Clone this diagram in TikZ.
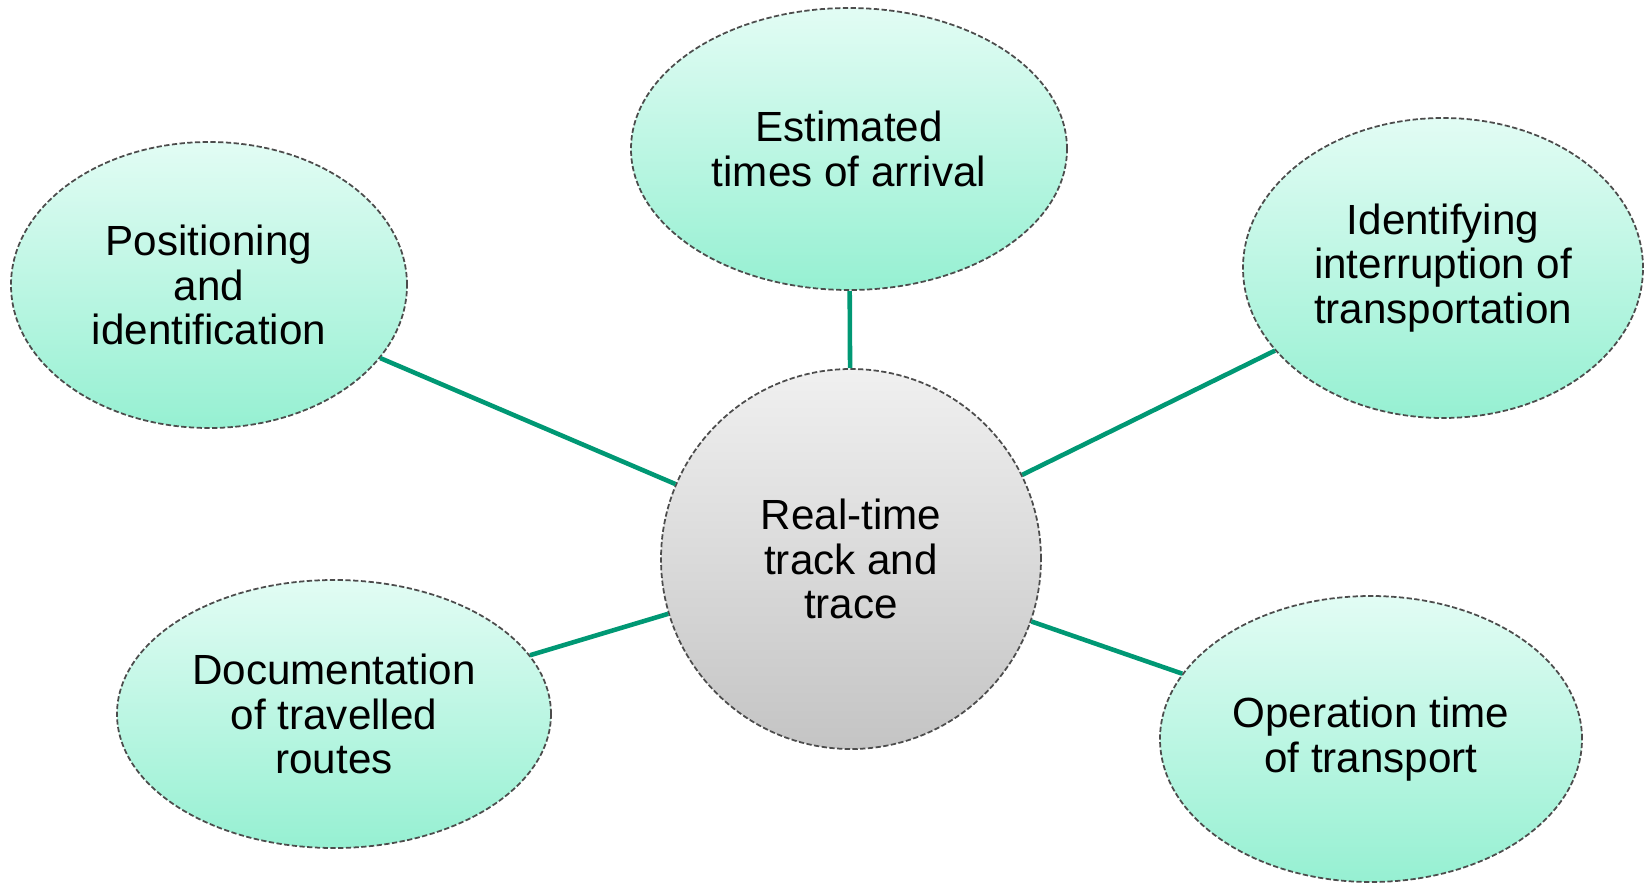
\documentclass[tikz,border=0pt]{standalone}
\usepackage{fontspec}
\setmainfont{Liberation Sans}
\usepackage{tikz}
\usetikzlibrary{shapes,positioning,backgrounds}
\definecolor{linkgreen}{RGB}{0,152,116}
\definecolor{mintlight}{RGB}{226,252,244}
\definecolor{mintdark}{RGB}{150,240,210}
\definecolor{greylight}{RGB}{240,240,240}
\definecolor{greydark}{RGB}{196,196,196}
\tikzset{
    topic/.style = {ellipse, draw=black!70, dash pattern=on 1.5pt off 0.7pt, line width=0.5pt,
        top color=mintlight, bottom color=mintdark,
        inner sep=0pt, align=center,
        font=\fontsize{12}{12.6}\selectfont},
    hub/.style = {circle, draw=black!70, dash pattern=on 1.5pt off 0.7pt, line width=0.5pt,
        top color=greylight, bottom color=greydark,
        minimum size=3.8cm, inner sep=0pt, align=center,
        font=\fontsize{12}{12.6}\selectfont},
    link/.style = {draw=linkgreen, line width=1.3pt}
}

\begin{document}
\begin{tikzpicture}
    \useasboundingbox (-8.51,-3.24) rectangle (7.95,5.59);
    \node [hub, name=track] at (0,0) {Real-time\\track and\\trace};
    \node [topic, minimum width=4.36cm, minimum height=2.82cm, name=eta] at (-0.02,4.10) {Estimated\\times of arrival};
    \node [topic, minimum width=3.96cm, minimum height=2.86cm, name=position] at (-6.42,2.74) {Positioning\\and\\identification};
    \node [topic, minimum width=4.00cm, minimum height=3.00cm, name=interrupt] at (5.92,2.91) {Identifying\\interruption of\\transportation};
    \node [topic, minimum width=4.34cm, minimum height=2.68cm, name=routes] at (-5.17,-1.55) {Documentation\\of travelled\\routes};
    \node [topic, minimum width=4.22cm, minimum height=2.86cm, name=optime] at (5.20,-1.80) {Operation time\\of transport};
    \draw [link] (track) -- (eta);
    \draw [link] (track) -- (position);
    \draw [link] (track) -- (interrupt);
    \draw [link] (track) -- (routes);
    \draw [link] (track) -- (optime);
\end{tikzpicture}
\end{document}
